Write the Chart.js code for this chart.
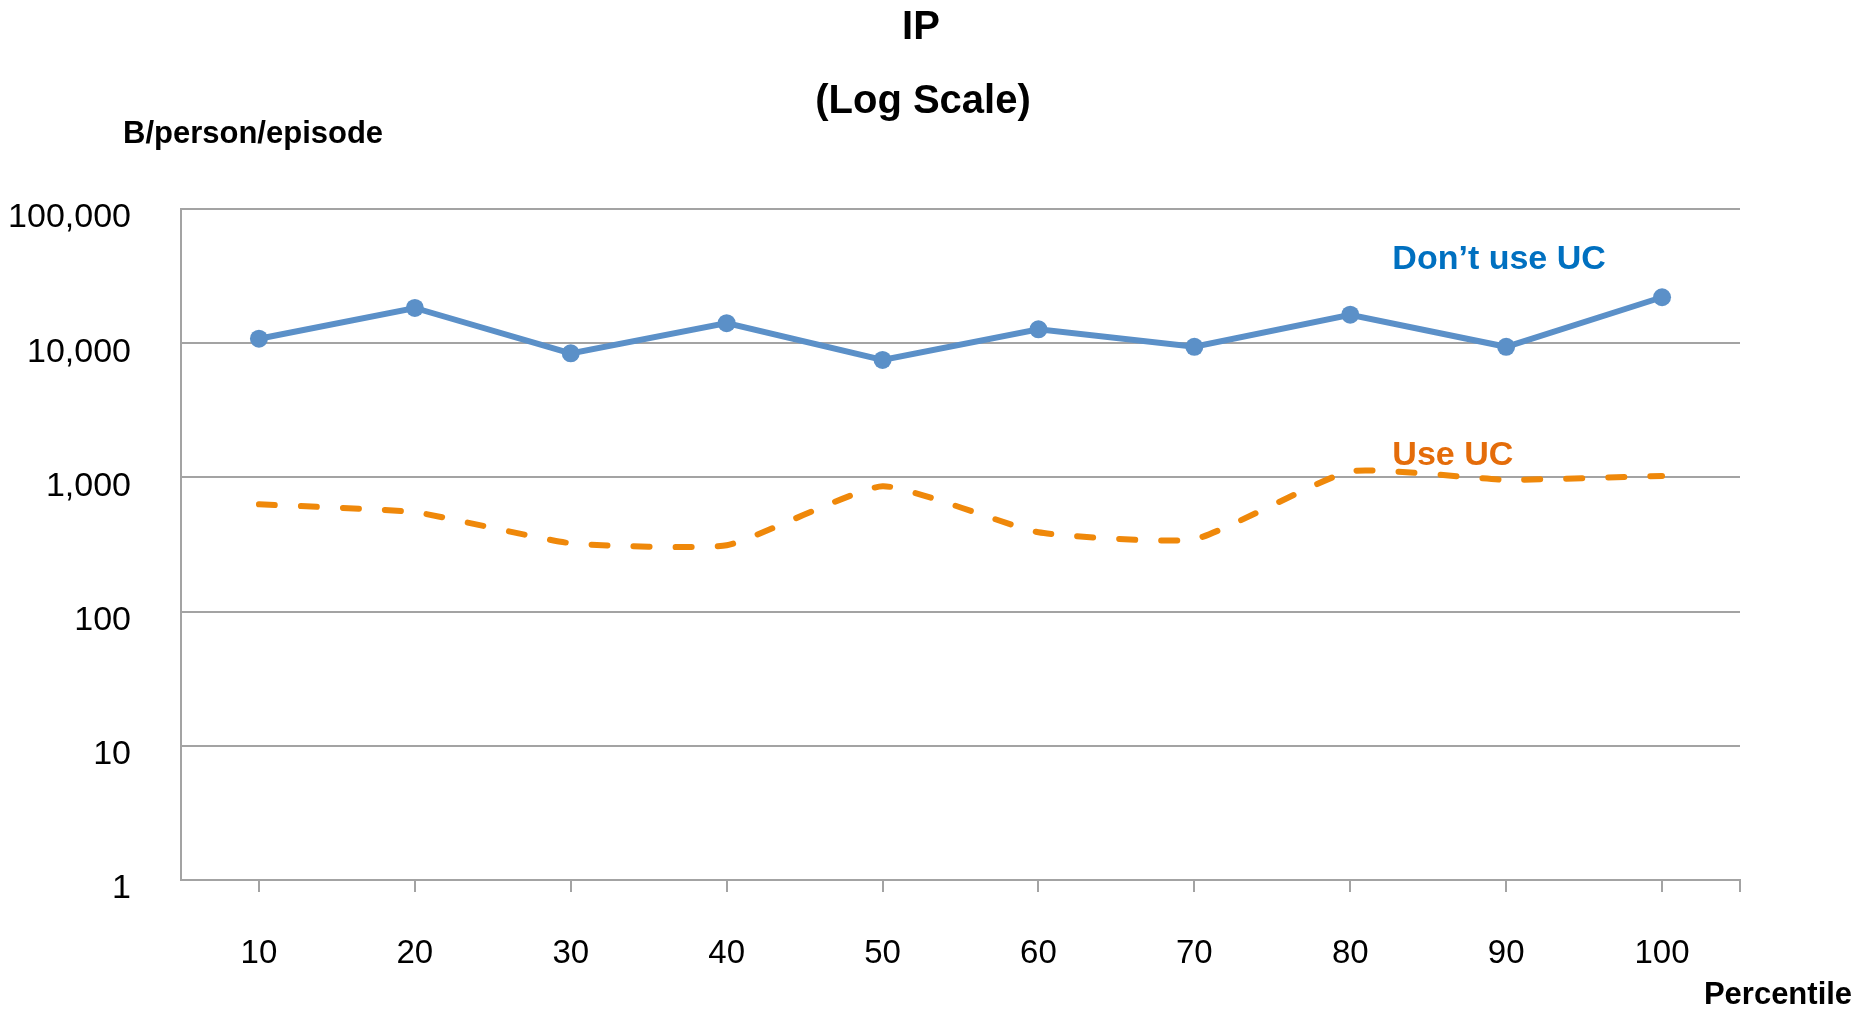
<!DOCTYPE html>
<html>
<head>
<meta charset="utf-8">
<title>IP (Log Scale)</title>
<script src="https://cdn.jsdelivr.net/npm/chart.js@4/dist/chart.umd.min.js"></script>
<style>
    html, body { margin: 0; padding: 0; background: #fff; }
    #wrap { width: 1869px; height: 1009px; position: relative; }
</style>
</head>
<body>
<div id="wrap"><canvas id="ip-chart"></canvas></div>
<script>
// values
const percentiles = ['10', '20', '30', '40', '50', '60', '70', '80', '90', '100'];
const dontUseUC = [10800, 18300, 8400, 14100, 7500, 12700, 9400, 16300, 9400, 22000];
const useUC = [630, 550, 323, 312, 860, 390, 346, 1110, 960, 1025];
const yTicks = [1, 10, 100, 1000, 10000, 100000];

const FONT = "'Liberation Sans', Arial, Helvetica, sans-serif";
const GRID = '#a3a3a3';

// titles, axis names and the two series labels drawn as plain text
const textPlugin = {
    id: 'chartText',
    afterDatasetsDraw(chart) {
        const { ctx, chartArea, scales } = chart;
        const x = scales.x, y = scales.y;
        ctx.save();

        // right end tick of the category axis
        ctx.strokeStyle = GRID;
        ctx.lineWidth = 2;
        ctx.beginPath();
        ctx.moveTo(chartArea.right, chartArea.bottom);
        ctx.lineTo(chartArea.right, chartArea.bottom + 12);
        ctx.stroke();

        ctx.fillStyle = '#000';
        ctx.textBaseline = 'middle';
        ctx.textAlign = 'center';
        ctx.font = 'bold 40px ' + FONT;
        ctx.fillText('IP', 921, 28);
        ctx.fillText('(Log Scale)', 923, 102);

        ctx.font = 'bold 31px ' + FONT;
        ctx.textAlign = 'left';
        ctx.fillText('B/person/episode', 123, 134);
        ctx.textAlign = 'center';
        ctx.fillText('Percentile', 1778, 995);

        ctx.font = 'bold 34px ' + FONT;
        ctx.textAlign = 'left';
        ctx.fillStyle = '#0070c0';
        ctx.fillText('Don\u2019t use UC', x.getPixelForValue(7.27), y.getPixelForValue(42000));
        ctx.fillStyle = '#e46c0a';
        ctx.fillText('Use UC', x.getPixelForValue(7.27), y.getPixelForValue(1460));
        ctx.restore();
    }
};

new Chart(document.getElementById('ip-chart'), {
    type: 'line',
    data: {
        labels: percentiles,
        datasets: [{
            label: 'Don\u2019t use UC',
            data: dontUseUC,
            borderColor: '#5b90c8',
            backgroundColor: '#5b90c8',
            borderWidth: 6,
            pointRadius: 9,
            pointBorderWidth: 0,
            tension: 0
        }, {
            label: 'Use UC',
            data: useUC,
            borderColor: '#ef880a',
            borderWidth: 6,
            borderDash: [16, 26],
            borderCapStyle: 'round',
            pointRadius: 0,
            tension: 0.15
        }]
    },
    options: {
        responsive: true,
        maintainAspectRatio: false,
        animation: false,
        layout: { padding: { left: 0, right: 129, top: 209, bottom: 0 } },
        plugins: {
            legend: { display: false },
            tooltip: { enabled: false },
            title: { display: false }
        },
        scales: {
            x: {
                type: 'category',
                offset: true,
                grid: {
                    drawOnChartArea: false,
                    drawTicks: true,
                    tickLength: 12,
                    color: GRID,
                    lineWidth: 2,
                    offset: false
                },
                border: { color: GRID, width: 2 },
                ticks: {
                    color: '#000',
                    padding: 42,
                    maxRotation: 0,
                    font: { family: FONT, size: 33 }
                },
                afterFit(scale) { scale.height = 129; }
            },
            y: {
                type: 'logarithmic',
                min: 1,
                max: 100000,
                grid: {
                    color: GRID,
                    lineWidth: 2,
                    drawTicks: false
                },
                border: { color: GRID, width: 2 },
                ticks: {
                    color: '#000',
                    padding: 50,
                    labelOffset: 9,
                    font: { family: FONT, size: 34 },
                    callback: (v) => Number(v).toLocaleString('en-US')
                },
                afterBuildTicks(scale) {
                    scale.ticks = yTicks.map(v => ({ value: v }));
                },
                afterFit(scale) { scale.width = 181; }
            }
        }
    },
    plugins: [textPlugin]
});
</script>
</body>
</html>
